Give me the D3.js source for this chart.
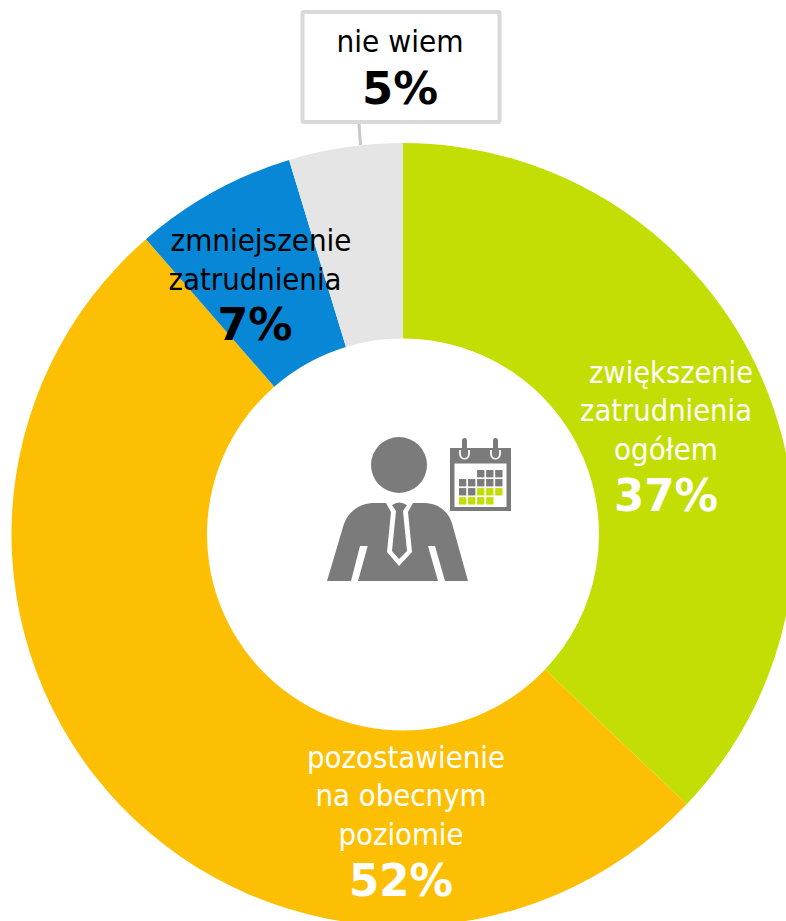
<!DOCTYPE html>
<html>
<head>
<meta charset="utf-8">
<script src="https://cdn.jsdelivr.net/npm/d3@7"></script>
<style>
  html, body { margin: 0; padding: 0; background: #fff; }
  svg { display: block; }
  text { font-family: "DejaVu Sans", Verdana, sans-serif; text-anchor: middle; }
</style>
</head>
<body>
<svg id="chart" width="786" height="921"></svg>
<script>
// slice sizes as measured on the ring, the labels carry the rounded figures
const categories = ['zwiększenie zatrudnienia ogółem', 'pozostawienie na obecnym poziomie', 'zmniejszenie zatrudnienia', 'nie wiem']
const values = [37.1, 51.5, 6.7, 4.7]
const percentLabels = ['37%', '52%', '7%', '5%']
const colors = ['#c3de04', '#fdbf04', '#0787d6', '#e5e5e5']

// calendar squares on the icon: [column, row]
const calGrey = [[2,0],[3,0],[4,0],[0,1],[1,1],[2,1],[3,1],[4,1],[0,2],[1,2]]
const calGreen = [[2,2],[3,2],[4,2],[0,3],[1,3],[2,3],[3,3]]

const cx = 403, cy = 534.5, rOuter = 391.5, rInner = 196

const svg = d3.select('#chart')

const pie = d3.pie().sort(null).value(d => d)
const arc = d3.arc().innerRadius(rInner).outerRadius(rOuter)

svg.append('g')
    .attr('transform', `translate(${cx},${cy})`)
    .selectAll('path')
    .data(pie(values))
    .enter()
    .append('path')
        .attr('d', arc)
        .style('fill', (d, i) => colors[i])

// leader line + box for the smallest slice
svg.append('line')
    .attr('x1', 359).attr('y1', 124)
    .attr('x2', 360.5).attr('y2', 145)
    .style('stroke', '#c8c8c8')
    .style('stroke-width', 3)

svg.append('rect')
    .attr('x', 302.5).attr('y', 12)
    .attr('width', 197).attr('height', 110)
    .attr('rx', 1)
    .style('fill', '#fff')
    .style('stroke', '#d9d9d9')
    .style('stroke-width', 4)

/**
 * prints a multi line label with the bold percent below it
 */
const printLabel = (lines, percent, x, ys, percentY, color, width, percentWidth) => {
    lines.forEach((line, i) => {
        svg.append('text')
            .attr('x', x[i]).attr('y', ys[i])
            .attr('textLength', width[i])
            .attr('lengthAdjust', 'spacingAndGlyphs')
            .style('font-size', '31px')
            .style('fill', color)
            .text(line)
    })
    svg.append('text')
        .attr('x', x[lines.length]).attr('y', percentY)
        .attr('textLength', percentWidth)
        .attr('lengthAdjust', 'spacingAndGlyphs')
        .style('font-size', '45px')
        .style('font-weight', 'bold')
        .style('fill', color)
        .text(percent)
}

printLabel(['zwiększenie', 'zatrudnienia', 'ogółem'], percentLabels[0],
    [671, 666, 666, 666], [383, 421, 460], 511, '#fff', [164, 172, 104], 104)
printLabel(['pozostawienie', 'na obecnym', 'poziomie'], percentLabels[1],
    [406, 401, 401, 401], [768, 806, 845], 896, '#fff', [198, 171, 125], 104)
printLabel(['zmniejszenie', 'zatrudnienia'], percentLabels[2],
    [261, 255, 255], [251, 290], 340, '#000', [181, 173], 75)
printLabel(['nie wiem'], percentLabels[3],
    [400, 400], [52], 104, '#000', [127], 76)

// person + calendar icon in the hole
const icon = svg.append('g').style('fill', '#7b7b7b')

icon.append('circle').attr('cx', 399).attr('cy', 465).attr('r', 28)

icon.append('path').attr('d',
    'M327,581 L343,527 C347,513 358,503 375,503 L423,503 C440,503 450,513 453,527 L468,581 L445,581 L435,546 L428,546 L438,581 L358,581 L367.7,546 L360,546 L351,581 Z')

// white tie outline, then the tie on top
icon.append('path').attr('d', 'M386,503 Q399,497 413,503 L408,512 L412,552 L399,566 L387,552 L391,512 Z')
    .style('fill', '#fff')
icon.append('path').attr('d', 'M392,505 Q399,500 407,505 L403,511 L407,551 L399,559 L392,551 L396,511 Z')

icon.append('rect').attr('x', 450).attr('y', 448).attr('width', 61).attr('height', 63)
icon.append('rect').attr('x', 454.5).attr('y', 463.5).attr('width', 52).attr('height', 43.5).style('fill', '#fff')

const ringX = [464.5, 495.5]
icon.selectAll('.ringbase')
    .data(ringX)
    .enter()
    .append('path')
        .attr('class', 'ringbase')
        .attr('d', d => `M${d - 4.5},450 L${d - 4.5},454 a4.5,4.5 0 0,0 9,0 L${d + 4.5},450`)
        .style('fill', 'none')
        .style('stroke', '#f0f0f0')
        .style('stroke-width', 2)

icon.selectAll('.ring')
    .data(ringX)
    .enter()
    .append('rect')
        .attr('class', 'ring')
        .attr('x', d => d - 2.5)
        .attr('y', 438)
        .attr('width', 5)
        .attr('height', 20)
        .attr('rx', 2.5)

const calX = d3.scaleBand().domain(d3.range(5)).range([459, 502.5]).paddingInner(0.19)
const calY = d3.scaleBand().domain(d3.range(4)).range([470, 504.5]).paddingInner(0.19)

const printCells = (cells, color) => {
    svg.append('g')
        .selectAll('rect')
        .data(cells)
        .enter()
        .append('rect')
            .attr('x', d => calX(d[0]))
            .attr('y', d => calY(d[1]))
            .attr('width', calX.bandwidth())
            .attr('height', calY.bandwidth())
            .style('fill', color)
}
printCells(calGrey, '#7b7b7b')
printCells(calGreen, '#c3de04')
</script>
</body>
</html>
